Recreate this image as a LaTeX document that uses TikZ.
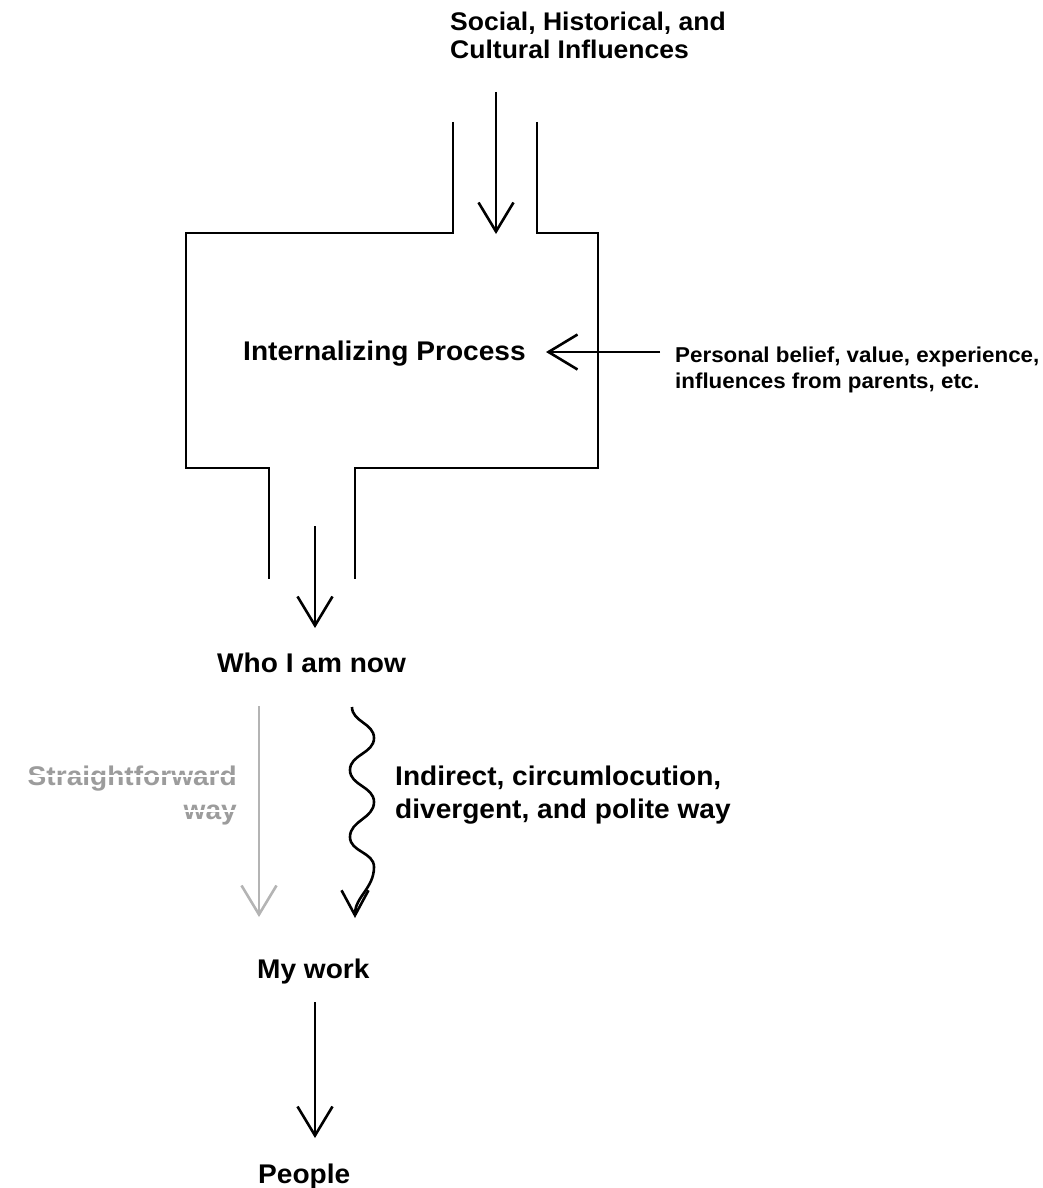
\documentclass[tikz,border=0pt]{standalone}
\usepackage{fontspec}
\setmainfont{Liberation Sans}[FakeStretch=1.04]
\usetikzlibrary{arrows.meta, positioning}

\definecolor{lightgrey}{HTML}{B4B4B4}
\definecolor{textgrey}{HTML}{9C9C9C}

\tikzset{
  lbl/.style={anchor=base west, inner sep=0pt, align=left,
    font=\bfseries\fontsize{27}{33}\selectfont},
  smalllbl/.style={font=\bfseries\fontsize{21.5}{26}\selectfont},
  pipe/.style={line width=2.6pt},
  arr/.style={line width=2.6pt, -{Straight Barb[length=29pt, width=35pt]}},
  strike/.style={white, line width=2.8pt}
}

\begin{document}
\begin{tikzpicture}[x=1pt, y=-1pt]
\useasboundingbox (0,0) rectangle (1043,1188);

% labels (base = last line)
\node[lbl, font=\bfseries\fontsize{25.5}{28}\selectfont] (social) at (450,59) {Social, Historical, and\\Cultural Influences};
\node[lbl] (inproc) at (243,360) {Internalizing Process};
\node[lbl, smalllbl] (personal) at (675,388) {Personal belief, value, experience,\\influences from parents, etc.};
\node[lbl] (who) at (217,672) {Who I am now};
\node[lbl, textgrey, anchor=base east] (straight) at (237,785) {Straightforward};
\node[lbl, textgrey, anchor=base east] (way) at (237,819) {way};
\node[lbl] (indirect) at (395,818) {Indirect, circumlocution,\\divergent, and polite way};
\node[lbl] (work) at (257,978) {My work};
\node[lbl] (people) at (258,1183) {People};

% crossed out
\draw[strike] ([yshift=9pt]straight.base west) -- ([yshift=9pt]straight.base east);
\draw[strike] ([yshift=8pt]way.base west) -- ([yshift=8pt]way.base east);

% the funnel
\draw[pipe] (453,122) -- (453,233) -- (186,233) -- (186,468) -- (269,468) -- (269,579);
\draw[pipe] (537,122) -- (537,233) -- (598,233) -- (598,468) -- (355,468) -- (355,579);

\coordinate (socin) at (496,92);
\coordinate (socout) at (496,234);
\coordinate (persin) at (660,352);
\coordinate (persout) at (546,352);
\coordinate (whoin) at (315,526);
\coordinate (whoout) at (315,628);
\coordinate (straightin) at (259,706);
\coordinate (straightout) at (259,917);
\coordinate (wavein) at (352,707);
\coordinate (waveout) at (355,918);
\coordinate (workin) at (315,1002);
\coordinate (workout) at (315,1138);

\draw[arr] (socin) -- (socout);
\draw[arr] (persin) -- (persout);
\draw[arr] (whoin) -- (whoout);
\draw[arr, lightgrey] (straightin) -- (straightout);
\draw[line width=2.6pt, -{Straight Barb[length=25pt, width=27pt]}]
  (wavein) to[out=270,in=90] (374,738) to[out=270,in=90] (350,770)
  to[out=270,in=90] (374,802) to[out=270,in=90] (350,837)
  to[out=270,in=90] (374,867) to[out=270,in=90] (waveout);
\draw[arr] (workin) -- (workout);
\end{tikzpicture}
\end{document}
